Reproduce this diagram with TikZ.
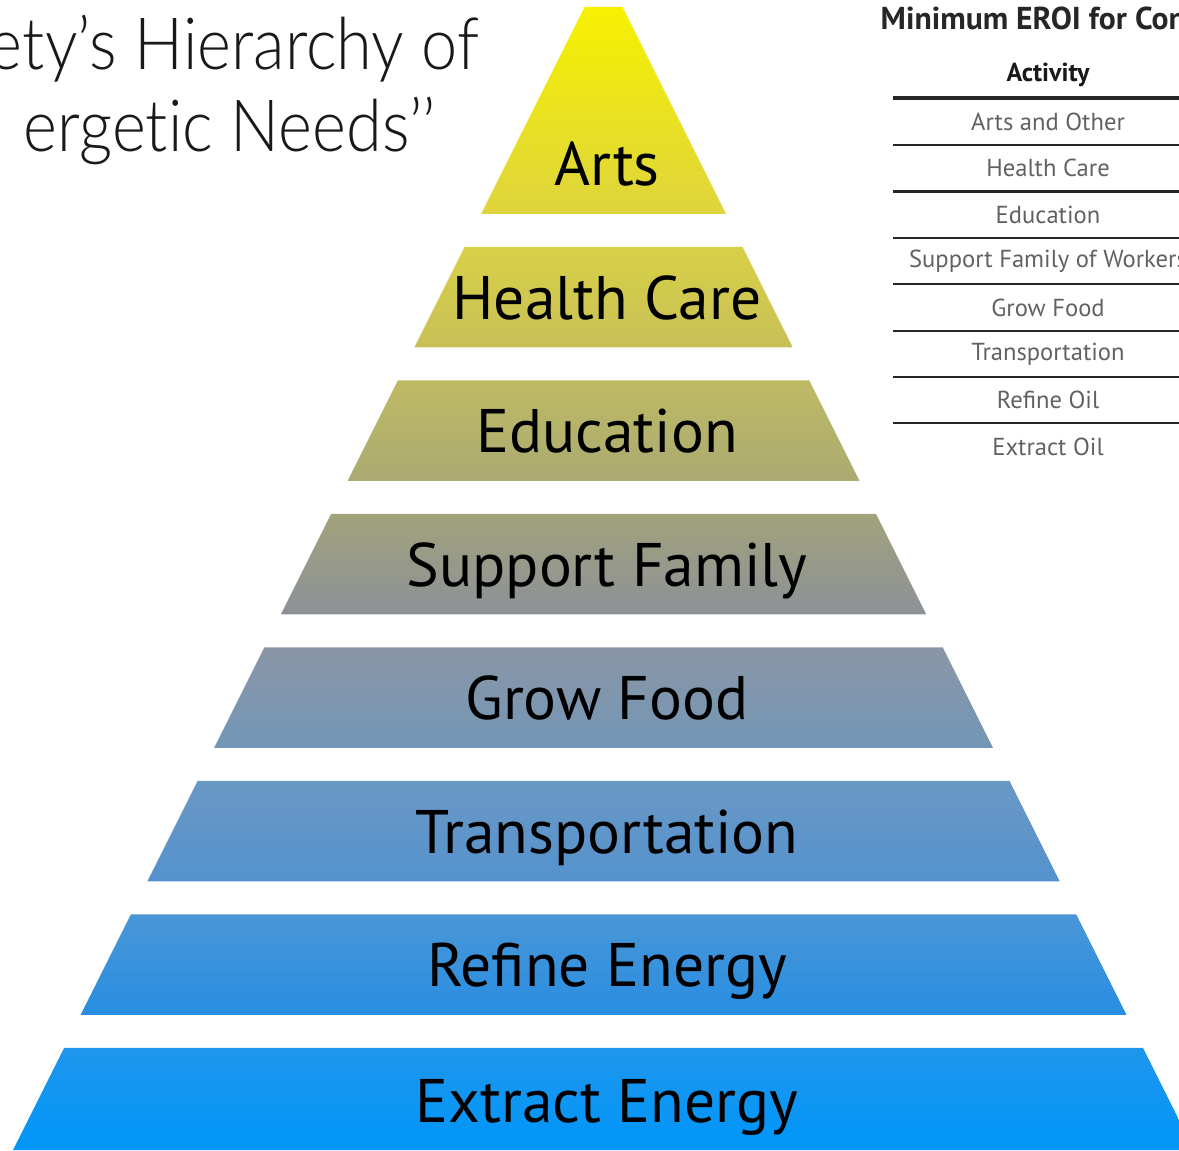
\documentclass[tikz,border=0pt]{standalone}
\usepackage{fontspec}
\setmainfont{PT Sans}
\newfontfamily\thinfont{Lato Light}[FakeStretch=0.9, Ligatures=NoCommon]

% band colours, top and bottom of each step
\definecolor{artsA}{RGB}{246,241,0}
\definecolor{artsB}{RGB}{222,212,62}
\definecolor{careA}{RGB}{216,208,70}
\definecolor{careB}{RGB}{200,192,88}
\definecolor{educA}{RGB}{190,186,100}
\definecolor{educB}{RGB}{170,170,114}
\definecolor{famA}{RGB}{162,162,124}
\definecolor{famB}{RGB}{140,145,152}
\definecolor{foodA}{RGB}{138,150,166}
\definecolor{foodB}{RGB}{115,150,182}
\definecolor{tranA}{RGB}{106,152,196}
\definecolor{tranB}{RGB}{84,146,206}
\definecolor{refA}{RGB}{74,150,214}
\definecolor{refB}{RGB}{40,142,226}
\definecolor{extA}{RGB}{30,150,236}
\definecolor{extB}{RGB}{0,150,250}

% one step of the pyramid: (top y : bottom y)[top colour : bottom colour]
\def\band(#1:#2)[#3:#4]{\shade[top color=#3, bottom color=#4] ({6.035-(11.81-#1)/2}, #1) -- ({6.035+(11.81-#1)/2}, #1) -- ({6.035+(11.81-#2)/2}, #2) -- ({6.035-(11.81-#2)/2}, #2) -- cycle;}

\tikzset{
	lbl/.style={anchor=base, inner sep=0pt, text=black, font=\fontsize{17.5}{21}\selectfont},
	headline/.style={anchor=base east, inner sep=0pt, text=black!90, font=\thinfont\fontsize{20.5}{25}\selectfont},
	row/.style={inner sep=0pt, text=black!62, font=\fontsize{7}{8.4}\selectfont},
	rule/.style={line width=0.6pt, draw=black!85},
}

\begin{document}
\begin{tikzpicture}
			\useasboundingbox (0, 0) rectangle (11.79, 11.5);
			\clip (0, 0) rectangle (11.79, 11.5);
			
			%%%%% title %%%%%
			\node[headline] (title1) at (4.80, 10.80) {ety’s Hierarchy of};
			\node[headline] (title2) at (4.36, 9.98) {ergetic Needs’’};
			
			%%%%% pyramid %%%%%
			\band(11.43:9.36)[artsA:artsB];
			\band(9.03:8.025)[careA:careB];
			\band(7.695:6.69)[educA:educB];
			\band(6.36:5.355)[famA:famB];
			\band(5.025:4.02)[foodA:foodB];
			\band(3.69:2.685)[tranA:tranB];
			\band(2.355:1.35)[refA:refB];
			\band(1.02:0)[extA:extB];
			
			\node[lbl] (arts) at (6.07, 9.64) {Arts};
			\node[lbl] (care) at (6.07, 8.305) {Health Care};
			\node[lbl] (educ) at (6.07, 6.97) {Education};
			\node[lbl] (family) at (6.07, 5.635) {Support Family};
			\node[lbl] (food) at (6.07, 4.30) {Grow Food};
			\node[lbl] (transport) at (6.07, 2.965) {Transportation};
			\node[lbl] (refine) at (6.07, 1.63) {Refine Energy};
			\node[lbl] (extract) at (6.07, 0.28) {Extract Energy};
			
			%%%%% table %%%%%
			\node[anchor=base west, inner sep=0pt, text=black!85, font=\fontsize{9}{11}\selectfont\bfseries] (eroi) at (8.80, 11.20) {Minimum EROI for Con};
			\node[row, text=black!90, font=\fontsize{7.4}{9}\selectfont\bfseries] (activity) at (10.48, 10.75) {Activity};
			
			\draw[rule, line width=0.9pt] (8.93, 10.52) -- (11.9, 10.52);
			\draw[rule] (8.93, 10.05) -- (11.9, 10.05);
			\draw[rule] (8.93, 9.585) -- (11.9, 9.585);
			\draw[rule] (8.93, 9.12) -- (11.9, 9.12);
			\draw[rule] (8.93, 8.66) -- (11.9, 8.66);
			\draw[rule] (8.93, 8.19) -- (11.9, 8.19);
			\draw[rule] (8.93, 7.73) -- (11.9, 7.73);
			\draw[rule] (8.93, 7.27) -- (11.9, 7.27);
			
			\node[row] (r1) at (10.48, 10.285) {Arts and Other};
			\node[row] (r2) at (10.48, 9.82) {Health Care};
			\node[row] (r3) at (10.48, 9.35) {Education};
			\node[row] (r4) at (10.48, 8.89) {Support Family of Workers};
			\node[row] (r5) at (10.48, 8.425) {Grow Food};
			\node[row] (r6) at (10.48, 7.96) {Transportation};
			\node[row] (r7) at (10.48, 7.50) {Refine Oil};
			\node[row] (r8) at (10.48, 7.03) {Extract Oil};
		\end{tikzpicture}
\end{document}
